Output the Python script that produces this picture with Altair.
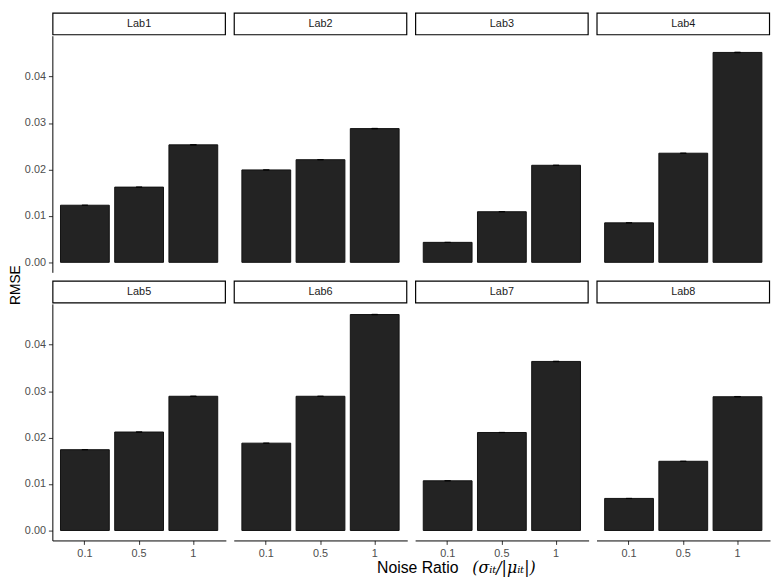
import altair as alt
import pandas as pd

labs = ["Lab1", "Lab2", "Lab3", "Lab4", "Lab5", "Lab6", "Lab7", "Lab8"]
noise = ["0.1", "0.5", "1"]
rmse = {
    "Lab1": [0.0123, 0.0162, 0.0253],
    "Lab2": [0.0199, 0.0221, 0.0288],
    "Lab3": [0.0043, 0.0109, 0.0209],
    "Lab4": [0.0085, 0.0235, 0.0452],
    "Lab5": [0.0174, 0.0212, 0.0289],
    "Lab6": [0.0188, 0.0289, 0.0465],
    "Lab7": [0.0107, 0.0211, 0.0364],
    "Lab8": [0.0069, 0.0149, 0.0288],
}
se = {
    "Lab1": [0.00002, 0.00003, 0.00006],
    "Lab2": [0.00002, 0.00003, 0.00006],
    "Lab3": [0.00002, 0.00003, 0.00005],
    "Lab4": [0.00002, 0.00004, 0.00007],
    "Lab5": [0.00002, 0.00003, 0.00006],
    "Lab6": [0.00002, 0.00003, 0.00006],
    "Lab7": [0.00002, 0.00003, 0.00006],
    "Lab8": [0.00002, 0.00003, 0.00006],
}
x_title_text = "Noise Ratio"
x_title_math = "(σᵢₜ/|μᵢₜ|)"
y_title = "RMSE"
y_ticks = [0, 0.01, 0.02, 0.03, 0.04]

rows = []
for lab in labs:
    for i, n in enumerate(noise):
        v = rmse[lab][i]
        e = se[lab][i]
        rows.append({"lab": lab, "noise": n, "rmse": v, "lo": v - e, "hi": v + e})
df = pd.DataFrame(rows)

W = 176
H = 240
SH = 22
FONT = "Liberation Sans"
yscale = alt.Scale(domain=[-0.00215, 0.0488], nice=False, zero=False)
xscale = alt.Scale(domain=noise, paddingInner=0.1, paddingOuter=0.15)


def panel(idx, lab):
    show_y = idx % 4 == 0
    show_x = idx >= 4
    xaxis = alt.Axis(labelAngle=0, tickSize=4, labelPadding=3) if show_x else None
    yaxis = alt.Axis(values=y_ticks, format=".2f", grid=False, tickSize=4, labelPadding=3) if show_y else None
    base = alt.Chart(df).transform_filter(alt.datum.lab == lab)
    bars = base.mark_bar(fill="#232323", stroke="#111111", strokeWidth=1).encode(
        x=alt.X("noise:N", sort=noise, title=None, scale=xscale, axis=xaxis),
        y=alt.Y("rmse:Q", scale=yscale, axis=yaxis, title=None),
    )
    err = base.mark_bar(size=6, color="black", stroke="black", strokeWidth=0.8).encode(
        x=alt.X("noise:N", sort=noise, title=None, scale=xscale, axis=xaxis),
        y=alt.Y("lo:Q", scale=yscale, axis=yaxis, title=None),
        y2="hi:Q",
    )
    sbase = alt.Chart(df).transform_filter((alt.datum.lab == lab) & (alt.datum.noise == noise[0]))
    srect = sbase.mark_rect(fill="white", stroke="black", strokeWidth=1.2).encode(
        x=alt.value(0.5), x2=alt.value(W - 0.5), y=alt.value(-SH - 1), y2=alt.value(-1)
    )
    stext = sbase.mark_text(
        font=FONT, fontSize=11, color="#1a1a1a", baseline="middle", align="center"
    ).encode(text="lab:N", x=alt.value(W / 2), y=alt.value(-SH / 2 - 1))
    return alt.layer(bars, err, srect, stext).properties(width=W, height=H)


panels = [panel(i, lab) for i, lab in enumerate(labs)]
grid = alt.concat(*panels, columns=4, spacing={"row": 32, "column": 8}, bounds="flush")

GW = 4 * W + 3 * 8
GH = 2 * (SH + 1 + H) + 32 - SH - 1

tdf = pd.DataFrame({"a": [x_title_text], "b": [x_title_math]})
xt_a = alt.Chart(tdf).mark_text(
    font=FONT, fontSize=16, color="black", baseline="middle", align="right"
).encode(text="a:N", x=alt.value(412), y=alt.value(9))
xt_b = alt.Chart(tdf).mark_text(
    font="DejaVu Serif", fontSize=16, fontStyle="italic", color="black", baseline="middle", align="left"
).encode(text="b:N", x=alt.value(426), y=alt.value(9))
xt = alt.layer(xt_a, xt_b).properties(width=GW, height=18)

yt = alt.Chart(pd.DataFrame({"t": [y_title]})).mark_text(
    font=FONT, fontSize=14, color="black", baseline="middle", align="center", angle=270
).encode(text="t:N", x=alt.value(8.5), y=alt.value(H + 13)).properties(width=15, height=GH)

right = alt.vconcat(grid, xt, spacing=1)
chart = alt.hconcat(yt, right, spacing=0).properties(padding=0).configure_view(
    stroke=None
).configure_axis(
    labelColor="#4d4d4d",
    labelFont=FONT,
    labelFontSize=11,
    tickColor="#333333",
    domainColor="black",
    domainWidth=1,
)

chart.save("out.html", embed_options={"renderer": "svg", "actions": False})
